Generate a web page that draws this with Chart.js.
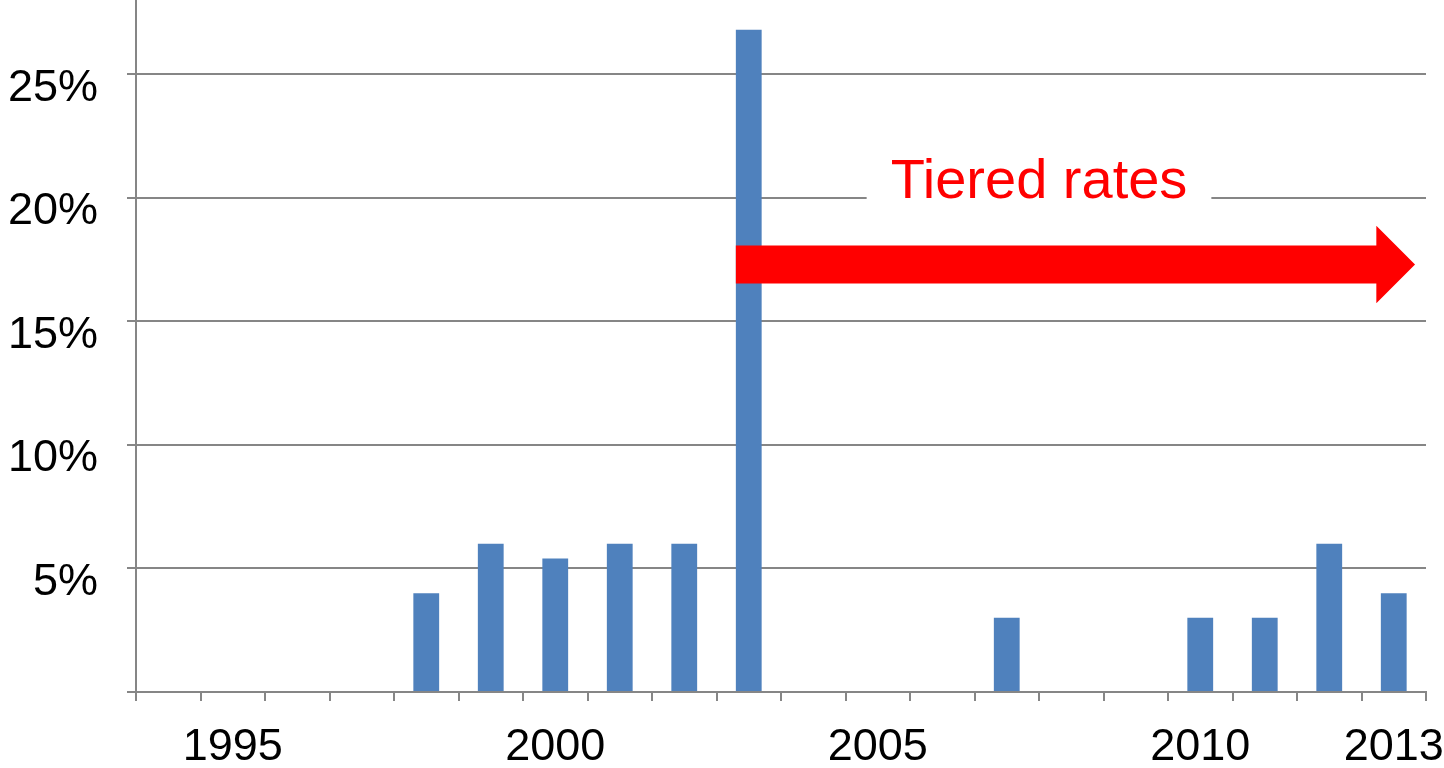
<!DOCTYPE html>
<html>
<head>
<meta charset="utf-8">
<script src="https://cdn.jsdelivr.net/npm/chart.js@4/dist/chart.umd.min.js"></script>
<style>
    html, body { margin: 0; padding: 0; background: #fff; }
    #wrap { width: 1444px; height: 768px; }
</style>
</head>
<body>
<div id="wrap"><canvas id="chart"></canvas></div>
<script>
// Data
const years = ['1994', '1995', '1996', '1997', '1998', '1999', '2000', '2001', '2002', '2003',
    '2004', '2005', '2006', '2007', '2008', '2009', '2010', '2011', '2012', '2013'];
const shares = [null, null, null, null, 4, 6, 5.4, 6, 6, 26.8,
    null, null, null, 3, null, null, 3, 3, 6, 4];
const shownYears = ['1995', '2000', '2005', '2010', '2013'];
const yTicks = [0, 5, 10, 15, 20, 25];

// Annotation
const annotationText = 'Tiered rates';
const textYears = ['2007', '2008'];
const textLevel = 20;
const arrowFromYear = '2003';
const arrowToYear = '2013';
const arrowLevel = 17.3;

const AXIS_GREY = '#868686';
const LABEL_FONT = {family: '"Liberation Sans", Arial, sans-serif', size: 45};

const tieredRatesPlugin = {
    id: 'tieredRates',
    afterDatasetsDraw: function (chart) {
        const ctx = chart.ctx;
        const x = chart.scales.x;
        const y = chart.scales.y;
        const step = x.getPixelForValue(1) - x.getPixelForValue(0);
        const unit = y.getPixelForValue(0) - y.getPixelForValue(1);

        // Red arrow
        const x0 = x.getPixelForValue(years.indexOf(arrowFromYear)) - 0.2 * step;
        const tip = x.getPixelForValue(years.indexOf(arrowToYear)) + 0.33 * step;
        const headBase = tip - 0.6 * step;
        const yc = y.getPixelForValue(arrowLevel);
        const half = 0.77 * unit;
        const headHalf = 1.57 * unit;
        ctx.save();
        ctx.fillStyle = '#FF0000';
        ctx.beginPath();
        ctx.moveTo(x0, yc - half);
        ctx.lineTo(headBase, yc - half);
        ctx.lineTo(headBase, yc - headHalf);
        ctx.lineTo(tip, yc);
        ctx.lineTo(headBase, yc + headHalf);
        ctx.lineTo(headBase, yc + half);
        ctx.lineTo(x0, yc + half);
        ctx.closePath();
        ctx.fill();

        // Label with white box over the gridline
        const cx = (x.getPixelForValue(years.indexOf(textYears[0])) + x.getPixelForValue(years.indexOf(textYears[1]))) / 2;
        const base = y.getPixelForValue(textLevel);
        ctx.font = '56px "Liberation Sans", Arial, sans-serif';
        const w = ctx.measureText(annotationText).width;
        ctx.fillStyle = '#FFFFFF';
        ctx.fillRect(cx - w / 2 - 24, base - 50, w + 48, 60);
        ctx.fillStyle = '#FF0000';
        ctx.textAlign = 'center';
        ctx.textBaseline = 'alphabetic';
        ctx.fillText(annotationText, cx, base);
        ctx.restore();
    }
};

new Chart(document.getElementById('chart'), {
    type: 'bar',
    data: {
        labels: years,
        datasets: [{
            data: shares,
            backgroundColor: '#4F81BD',
            barPercentage: 0.4,
            categoryPercentage: 1.0
        }]
    },
    options: {
        responsive: true,
        maintainAspectRatio: false,
        animation: false,
        layout: {padding: {top: 0, right: 18, left: 0, bottom: 0}},
        plugins: {
            legend: {display: false},
            tooltip: {enabled: false}
        },
        scales: {
            x: {
                grid: {
                    offset: true,
                    drawOnChartArea: false,
                    color: AXIS_GREY,
                    lineWidth: 2,
                    tickLength: 9
                },
                border: {color: AXIS_GREY, width: 2},
                ticks: {
                    autoSkip: false,
                    maxRotation: 0,
                    padding: 20,
                    color: '#000',
                    font: LABEL_FONT,
                    callback: function (value, index) {
                        return shownYears.includes(years[index]) ? years[index] : '';
                    }
                },
                afterFit: function (scale) {
                    scale.height = 76;
                    scale.paddingLeft = 0;
                    scale.paddingRight = 0;
                }
            },
            y: {
                min: 0,
                max: 28,
                grid: {
                    color: AXIS_GREY,
                    lineWidth: 2,
                    tickLength: 9
                },
                border: {color: AXIS_GREY, width: 2},
                ticks: {
                    padding: 29,
                    labelOffset: 14,
                    color: '#000',
                    font: LABEL_FONT,
                    callback: value => value === 0 ? '' : value + '%'
                },
                afterBuildTicks: function (scale) {
                    scale.ticks = yTicks.map(v => ({value: v}));
                },
                afterFit: function (scale) {
                    scale.width = 136;
                    scale.paddingTop = 0;
                    scale.paddingBottom = 0;
                }
            }
        }
    },
    plugins: [tieredRatesPlugin]
});
</script>
</body>
</html>
